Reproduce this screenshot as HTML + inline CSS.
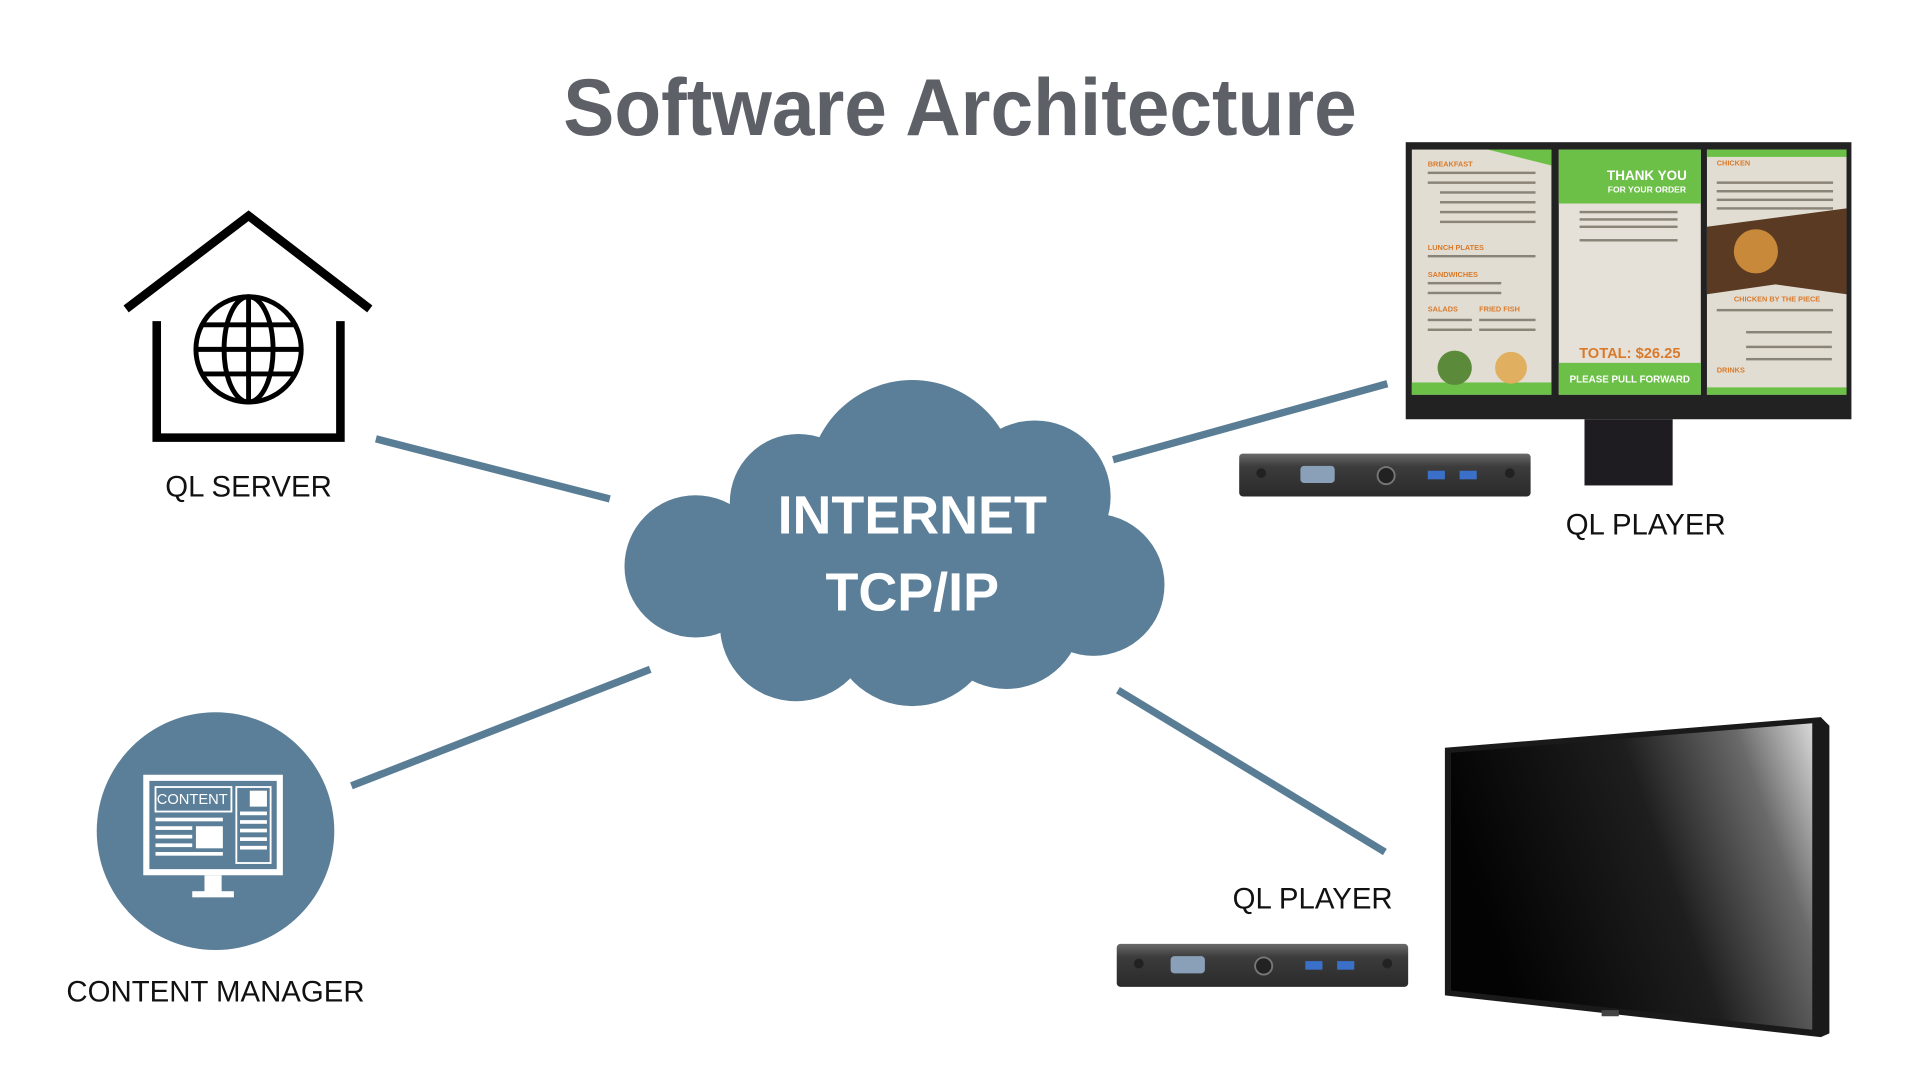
<!DOCTYPE html>
<html><head><meta charset="utf-8"><style>
html,body{margin:0;padding:0;background:#fff;overflow:hidden}
svg{display:block}
text{font-family:"Liberation Sans",sans-serif}
</style></head><body>
<svg width="1920" height="1080" viewBox="0 0 1568 881" preserveAspectRatio="none" xmlns="http://www.w3.org/2000/svg">
<defs>
<linearGradient id="tv" x1="0" y1="0.3" x2="1" y2="0">
<stop offset="0" stop-color="#030303"/><stop offset="0.5" stop-color="#1e1e1e"/><stop offset="0.8" stop-color="#6a6a6a"/><stop offset="1" stop-color="#d8d8d8"/>
</linearGradient>
<linearGradient id="box" x1="0" y1="0" x2="0" y2="1">
<stop offset="0" stop-color="#6a6a6a"/><stop offset="0.3" stop-color="#3c3c3c"/><stop offset="1" stop-color="#2a2a2a"/>
</linearGradient>
</defs>
<rect width="1568" height="881" fill="#fff"/>
<text x="784" y="110" text-anchor="middle" font-size="66" font-weight="bold" fill="#5d6066" textLength="648" lengthAdjust="spacingAndGlyphs">Software Architecture</text>

<g stroke="#5a7d96" stroke-width="6" stroke-linecap="butt">
<line x1="307" y1="358" x2="498" y2="407"/>
<line x1="531" y1="546" x2="287" y2="641"/>
<line x1="909" y1="375" x2="1133" y2="313"/>
<line x1="913" y1="563" x2="1131" y2="695"/>
</g>

<g fill="none" stroke="#000" stroke-width="7">
<polyline points="103,252 203,176 302,252"/>
<polyline points="128,262 128,357 278,357 278,262"/>
<g stroke-width="4">
<circle cx="203" cy="285" r="43"/>
<ellipse cx="203" cy="285" rx="20" ry="43"/>
<line x1="203" y1="242" x2="203" y2="328"/>
<line x1="160" y1="285" x2="246" y2="285"/>
<line x1="165" y1="265" x2="241" y2="265"/>
<line x1="165" y1="305" x2="241" y2="305"/>
</g>
</g>
<text x="203" y="405" text-anchor="middle" font-size="24" fill="#111">QL SERVER</text>

<g fill="#5b7f98">
<circle cx="745" cy="395" r="85"/>
<circle cx="568" cy="462" r="58"/>
<circle cx="652" cy="410" r="56"/>
<circle cx="845" cy="405" r="62"/>
<circle cx="893" cy="477" r="58"/>
<circle cx="650" cy="510" r="62"/>
<circle cx="745" cy="508" r="68"/>
<circle cx="822" cy="500" r="62"/>
<rect x="560" y="420" width="340" height="90"/>
</g>
<text x="745" y="435" text-anchor="middle" font-size="44" font-weight="bold" fill="#fff">INTERNET</text>
<text x="745" y="498" text-anchor="middle" font-size="44" font-weight="bold" fill="#fff">TCP/IP</text>

<circle cx="176" cy="678" r="97" fill="#5b7f98"/>
<g fill="#fff">
<rect x="117" y="632" width="114" height="82"/>
<rect x="167" y="714" width="14" height="14"/>
<rect x="157" y="727" width="34" height="5"/>
</g>
<rect x="122" y="637" width="104" height="72" fill="#5b7f98"/>
<g fill="#fff">
<rect x="127" y="642" width="62" height="20" fill="none" stroke="#fff" stroke-width="1.5"/>
<rect x="193" y="642" width="28" height="62" fill="none" stroke="#fff" stroke-width="1.5"/>
<rect x="204" y="645" width="14" height="13"/>
<rect x="127" y="667" width="55" height="3"/><rect x="127" y="674" width="30" height="3"/>
<rect x="127" y="681" width="30" height="3"/><rect x="127" y="688" width="30" height="3"/>
<rect x="127" y="695" width="55" height="3"/><rect x="160" y="674" width="22" height="18"/>
<rect x="196" y="662" width="22" height="3"/><rect x="196" y="669" width="22" height="3"/>
<rect x="196" y="676" width="22" height="3"/><rect x="196" y="683" width="22" height="3"/>
<rect x="196" y="690" width="22" height="3"/>
</g>
<text x="157" y="656" text-anchor="middle" font-size="12" fill="#fff">CONTENT</text>
<text x="176" y="817" text-anchor="middle" font-size="24" fill="#111">CONTENT MANAGER</text>

<rect x="1148" y="116" width="364" height="226" fill="#222"/>
<rect x="1294" y="342" width="72" height="54" fill="#1e1c20"/>
<rect x="1153" y="122" width="114" height="200" fill="#e2ddd2"/>
<rect x="1273" y="122" width="116" height="200" fill="#e6e1d8"/>
<rect x="1394" y="122" width="114" height="200" fill="#e2ddd2"/>
<polygon points="1215,122 1267,122 1267,135" fill="#6cbf47"/>
<rect x="1153" y="312" width="114" height="10" fill="#6cbf47"/>
<rect x="1273" y="122" width="116" height="44" fill="#6cbf47"/>
<rect x="1273" y="296" width="116" height="26" fill="#6cbf47"/>
<rect x="1394" y="122" width="114" height="6" fill="#6cbf47"/>
<polygon points="1394,185 1508,170 1508,240 1450,232 1394,240" fill="#5a3a22"/>
<rect x="1394" y="316" width="114" height="6" fill="#6cbf47"/>
<text x="1345" y="147" text-anchor="middle" font-size="11" font-weight="bold" fill="#fff">THANK YOU</text>
<text x="1345" y="157" text-anchor="middle" font-size="7" font-weight="bold" fill="#fff">FOR YOUR ORDER</text>
<text x="1331" y="292" text-anchor="middle" font-size="12" font-weight="bold" fill="#d97a2a">TOTAL: $26.25</text>
<text x="1331" y="312" text-anchor="middle" font-size="8" font-weight="bold" fill="#fff">PLEASE PULL FORWARD</text>
<g fill="#d97a2a" font-size="6" font-weight="bold">
<text x="1166" y="136">BREAKFAST</text><text x="1166" y="204">LUNCH PLATES</text>
<text x="1166" y="226">SANDWICHES</text><text x="1166" y="254">SALADS</text><text x="1208" y="254">FRIED FISH</text>
<text x="1402" y="135">CHICKEN</text><text x="1416" y="246">CHICKEN BY THE PIECE</text><text x="1402" y="304">DRINKS</text>
</g>
<g fill="#8a8478">
<rect x="1166" y="140" width="88" height="2"/><rect x="1166" y="148" width="88" height="2"/><rect x="1176" y="156" width="78" height="2"/>
<rect x="1176" y="164" width="78" height="2"/><rect x="1176" y="172" width="78" height="2"/><rect x="1176" y="180" width="78" height="2"/>
<rect x="1166" y="208" width="88" height="2"/><rect x="1166" y="230" width="60" height="2"/><rect x="1166" y="238" width="60" height="2"/>
<rect x="1166" y="260" width="36" height="2"/><rect x="1208" y="260" width="46" height="2"/><rect x="1166" y="268" width="36" height="2"/><rect x="1208" y="268" width="46" height="2"/>
<rect x="1290" y="172" width="80" height="2"/><rect x="1290" y="178" width="80" height="2"/><rect x="1290" y="184" width="80" height="2"/><rect x="1290" y="195" width="80" height="2"/>
<rect x="1402" y="148" width="95" height="2"/><rect x="1402" y="155" width="95" height="2"/><rect x="1402" y="162" width="95" height="2"/><rect x="1402" y="169" width="95" height="2"/>
<rect x="1402" y="252" width="95" height="2"/><rect x="1426" y="270" width="70" height="2"/><rect x="1426" y="282" width="70" height="2"/><rect x="1426" y="292" width="70" height="2"/>
</g>
<circle cx="1188" cy="300" r="14" fill="#5a8a3a"/><circle cx="1234" cy="300" r="13" fill="#e0b060"/>
<circle cx="1434" cy="205" r="18" fill="#c88a3a"/>
<text x="1344" y="436" text-anchor="middle" font-size="24" fill="#111">QL PLAYER</text>

<g>
<rect x="1012" y="370" width="238" height="35" rx="3" fill="url(#box)"/>
<rect x="1062" y="380" width="28" height="14" rx="3" fill="#8aa0b8"/>
<circle cx="1132" cy="388" r="7" fill="#222" stroke="#777" stroke-width="1.5"/>
<rect x="1166" y="384" width="14" height="7" fill="#3a70c8"/><rect x="1192" y="384" width="14" height="7" fill="#3a70c8"/>
<circle cx="1030" cy="386" r="4" fill="#222"/><circle cx="1233" cy="386" r="4" fill="#222"/>
</g>
<g>
<rect x="912" y="770" width="238" height="35" rx="3" fill="url(#box)"/>
<rect x="956" y="780" width="28" height="14" rx="3" fill="#8aa0b8"/>
<circle cx="1032" cy="788" r="7" fill="#222" stroke="#777" stroke-width="1.5"/>
<rect x="1066" y="784" width="14" height="7" fill="#3a70c8"/><rect x="1092" y="784" width="14" height="7" fill="#3a70c8"/>
<circle cx="930" cy="786" r="4" fill="#222"/><circle cx="1133" cy="786" r="4" fill="#222"/>
</g>
<text x="1072" y="741" text-anchor="middle" font-size="24" fill="#111">QL PLAYER</text>

<polygon points="1180,610 1487,585 1494,592 1494,843 1487,846 1180,812" fill="#1a1a1a"/>
<polygon points="1185,614 1480,590 1480,840 1185,808" fill="url(#tv)"/>
<rect x="1308" y="824" width="14" height="5" fill="#444"/>
</svg>
</body></html>
